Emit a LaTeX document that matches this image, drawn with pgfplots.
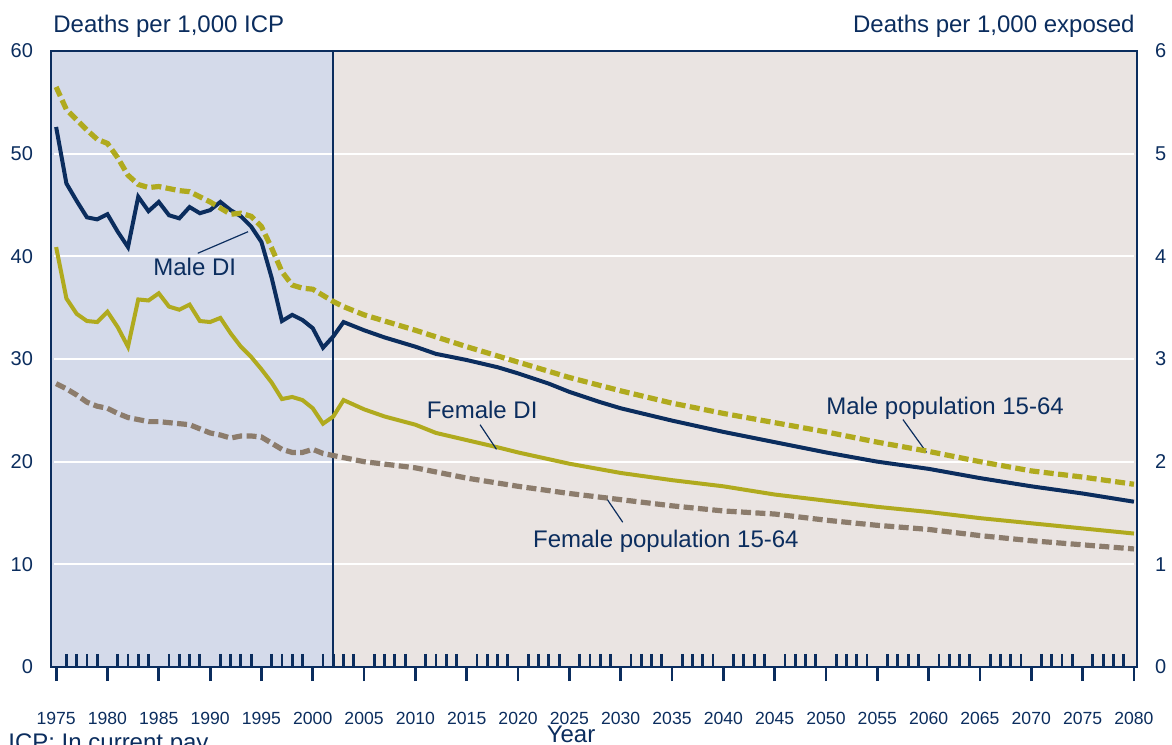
\documentclass[border=0pt]{standalone}
\usepackage{pgfplots}
\pgfplotsset{compat=1.18}
\usepackage{pgfplotstable}
\usepackage{fontspec}
\setmainfont{Liberation Sans}

\definecolor{navy}{HTML}{0B2D5E}
\definecolor{olive}{HTML}{B0AA1E}
\definecolor{taupe}{HTML}{8C7C6C}
\definecolor{histbg}{HTML}{D4DAEA}
\definecolor{projbg}{HTML}{EAE4E2}

% deaths per 1,000 in current pay (left scale)
\pgfplotstableread{
year val
1975 52.6
1976 47.1
1977 45.4
1978 43.8
1979 43.6
1980 44.1
1981 42.4
1982 40.9
1983 45.8
1984 44.4
1985 45.3
1986 44.0
1987 43.7
1988 44.8
1989 44.2
1990 44.5
1991 45.3
1992 44.5
1993 43.9
1994 42.9
1995 41.4
1996 37.9
1997 33.7
1998 34.3
1999 33.8
2000 33.0
2001 31.1
2002 32.2
2003 33.6
2005 32.8
2007 32.1
2010 31.2
2012 30.5
2015 29.9
2018 29.2
2020 28.6
2023 27.6
2025 26.8
2028 25.8
2030 25.2
2035 24.0
2040 22.9
2045 21.9
2050 20.9
2055 20.0
2060 19.3
2065 18.4
2070 17.6
2075 16.9
2080 16.1
}\maledi

\pgfplotstableread{
year val
1975 40.9
1976 35.9
1977 34.4
1978 33.7
1979 33.6
1980 34.6
1981 33.1
1982 31.2
1983 35.8
1984 35.7
1985 36.4
1986 35.1
1987 34.8
1988 35.3
1989 33.7
1990 33.6
1991 34.0
1992 32.5
1993 31.2
1994 30.2
1995 29.0
1996 27.7
1997 26.1
1998 26.3
1999 26.0
2000 25.2
2001 23.7
2002 24.4
2003 26.0
2005 25.1
2007 24.4
2010 23.6
2012 22.8
2015 22.1
2018 21.4
2020 20.9
2025 19.8
2030 18.9
2035 18.2
2040 17.6
2045 16.8
2050 16.2
2055 15.6
2060 15.1
2065 14.5
2070 14.0
2075 13.5
2080 13.0
}\femaledi

% deaths per 1,000 exposed (right scale)
\pgfplotstableread{
year val
1975 5.65
1976 5.43
1977 5.33
1978 5.23
1979 5.14
1980 5.10
1981 4.96
1982 4.79
1983 4.70
1984 4.67
1985 4.68
1986 4.66
1987 4.64
1988 4.63
1989 4.58
1990 4.53
1991 4.47
1992 4.41
1993 4.42
1994 4.39
1995 4.29
1996 4.08
1997 3.85
1998 3.72
1999 3.69
2000 3.68
2001 3.62
2002 3.56
2003 3.51
2005 3.43
2010 3.28
2015 3.12
2020 2.97
2025 2.82
2030 2.69
2035 2.57
2040 2.47
2045 2.38
2050 2.29
2055 2.19
2060 2.10
2065 2.00
2070 1.91
2075 1.85
2080 1.78
}\malepop

\pgfplotstableread{
year val
1975 2.76
1976 2.71
1977 2.65
1978 2.58
1979 2.54
1980 2.52
1981 2.47
1982 2.43
1983 2.41
1984 2.39
1985 2.39
1986 2.38
1987 2.37
1988 2.36
1989 2.32
1990 2.28
1991 2.26
1992 2.23
1993 2.25
1994 2.25
1995 2.24
1996 2.18
1997 2.12
1998 2.09
1999 2.09
2000 2.12
2001 2.08
2002 2.06
2003 2.04
2005 2.00
2010 1.94
2015 1.84
2020 1.76
2025 1.69
2030 1.63
2035 1.57
2040 1.52
2045 1.49
2050 1.43
2055 1.38
2060 1.34
2065 1.28
2070 1.23
2075 1.19
2080 1.15
}\femalepop

\begin{document}
\begin{tikzpicture}
\pgfplotsset{
  base/.style={
    at={(25.5pt,38.5pt)}, anchor=south west,
    scale only axis, width=543pt, height=308pt,
    xmin=1974.5, xmax=2080.3, ymin=0,
    /pgf/number format/assume math mode=true,
    tick label style={text=navy},
    yticklabel style={font=\fontsize{10}{12}\selectfont},
    yticklabel shift=5.5pt,
    major y tick style={draw=none},
  },
  solid line/.style={line width=2pt},
  dash line/.style={line width=2.6pt, dash pattern=on 5pt off 2.2pt},
}
\begin{axis}[base, name=main, clip=false, axis on top,
  ymax=60,
  axis line style={navy, line width=1.2pt},
  xtick={1975,1980,...,2080}, minor x tick num=4,
  xtick pos=bottom, xtick align=outside,
  major tick length=7pt, minor tick length=-6.5pt,
  major x tick style={draw=navy, line width=1.4pt},
  minor x tick style={draw=navy, line width=1.4pt},
  xticklabel style={font=\fontsize{8.8}{10}\selectfont, /pgf/number format/1000 sep={}, yshift=-12pt},
  ytick={0,10,...,60}, ytick pos=left,
]
\fill[histbg] (axis cs:1974.5,0) rectangle (axis cs:2002,60);
\fill[projbg] (axis cs:2002,0) rectangle (axis cs:2080.3,60);
\draw[white, line width=1pt] (axis cs:1974.8,10) -- (axis cs:2080,10);
\draw[white, line width=1pt] (axis cs:1974.8,20) -- (axis cs:2080,20);
\draw[white, line width=1pt] (axis cs:1974.8,30) -- (axis cs:2080,30);
\draw[white, line width=1pt] (axis cs:1974.8,40) -- (axis cs:2080,40);
\draw[white, line width=1pt] (axis cs:1974.8,50) -- (axis cs:2080,50);
\draw[navy, line width=1pt] (axis cs:2002,0) -- (axis cs:2002,60);
% outward major year ticks
\pgfplotsinvokeforeach{1975,1980,...,2080}{
  \draw[navy, line width=1.4pt] (axis cs:#1,0) -- ++(0pt,-7pt);
}

\addplot[olive, solid line] table[x=year, y=val] {\femaledi};
\addplot[navy, solid line] table[x=year, y=val] {\maledi};

\node[anchor=base, text=navy, font=\fontsize{12}{14}\selectfont] at (axis cs:1988.5,38.1) {Male DI};
\draw[navy, line width=0.6pt] (axis cs:1988.8,40.3) -- (axis cs:1993.7,42.4);
\node[anchor=base, text=navy, font=\fontsize{12}{14}\selectfont] at (axis cs:2016.5,24.2) {Female DI};
\draw[navy, line width=0.6pt] (axis cs:2016.3,23.6) -- (axis cs:2017.9,21.2);
\node[anchor=base, text=navy, font=\fontsize{12}{14}\selectfont] at (axis cs:2061.6,24.6) {Male population 15-64};
\draw[navy, line width=0.6pt] (axis cs:2057.5,24.1) -- (axis cs:2059.8,20.9);
\node[anchor=base, text=navy, font=\fontsize{12}{14}\selectfont] at (axis cs:2034.4,11.6) {Female population 15-64};
\draw[navy, line width=0.6pt] (axis cs:2028.5,16.6) -- (axis cs:2030.2,14.1);
\end{axis}

\begin{axis}[base, ymax=6,
  hide x axis, axis y line*=right,
  y axis line style={draw=none},
  ytick={0,1,...,6},
]
\addplot[olive, dash line] table[x=year, y=val] {\malepop};
\addplot[taupe, dash line] table[x=year, y=val] {\femalepop};
\end{axis}

\node[anchor=base west, inner sep=0, text=navy, font=\fontsize{12}{14}\selectfont] at (26.5pt,355.5pt) {Deaths per 1,000 ICP};
\node[anchor=base east, inner sep=0, text=navy, font=\fontsize{12}{14}\selectfont] at (567.5pt,355.5pt) {Deaths per 1,000 exposed};
\node[anchor=base, inner sep=0, text=navy, font=\fontsize{12}{14}\selectfont] at (285.5pt,1pt) {Year};
\node[anchor=base west, inner sep=0, text=navy, font=\fontsize{12}{14}\selectfont] at (4pt,-3pt) {ICP: In current pay};
\pgfresetboundingbox
\path[use as bounding box] (0,0) rectangle (586pt,372pt);
\end{tikzpicture}
\end{document}
